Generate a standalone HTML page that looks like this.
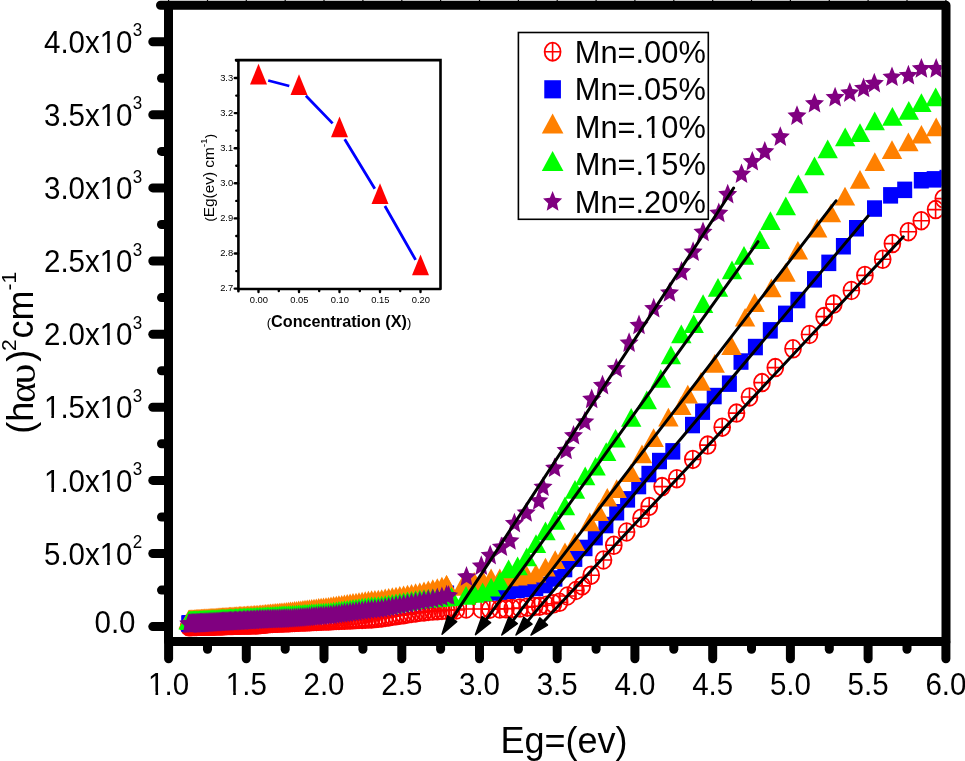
<!DOCTYPE html>
<html><head><meta charset="utf-8"><style>
html,body{margin:0;padding:0;background:#fff;}
svg{display:block;will-change:transform;}
text{font-family:"Liberation Sans", sans-serif;}
</style></head><body>
<svg width="965" height="761" viewBox="0 0 965 761">
<defs>
<clipPath id="pc"><rect x="173" y="9.5" width="768.6" height="627.5"/></clipPath>
<g id="mc"><ellipse cx="0" cy="0" rx="7.95" ry="8.85" fill="none" stroke="#f00" stroke-width="1.8"/><path d="M-7.95 0H7.95M0 -8.85V8.85" stroke="#f00" stroke-width="1.6"/></g>
<rect id="ms" x="-7.5" y="-8.2" width="15" height="16.5" fill="#00f"/>
<path id="mto" d="M0 -12.5L10.2 6.2L-10.2 6.2Z" fill="#ff8000"/>
<path id="mtg" d="M0 -12.5L10.2 6.2L-10.2 6.2Z" fill="#0f0"/>
<path id="mp" d="M0.00 -10.90L2.70 -4.05L9.54 -3.37L4.37 1.55L5.89 8.82L0.00 5.00L-5.89 8.82L-4.37 1.55L-9.54 -3.37L-2.70 -4.05Z" fill="#800080"/>
</defs>
<rect width="965" height="761" fill="#fff"/>

<g clip-path="url(#pc)"><use href="#mc" x="188.7" y="626.6"/>
<use href="#mc" x="189.5" y="626.6"/>
<use href="#mc" x="190.3" y="626.6"/>
<use href="#mc" x="191.1" y="626.5"/>
<use href="#mc" x="191.9" y="626.5"/>
<use href="#mc" x="192.7" y="626.5"/>
<use href="#mc" x="193.6" y="626.5"/>
<use href="#mc" x="194.4" y="626.4"/>
<use href="#mc" x="195.2" y="626.4"/>
<use href="#mc" x="196.1" y="626.4"/>
<use href="#mc" x="196.9" y="626.4"/>
<use href="#mc" x="197.8" y="626.3"/>
<use href="#mc" x="198.7" y="626.3"/>
<use href="#mc" x="199.6" y="626.3"/>
<use href="#mc" x="200.5" y="626.3"/>
<use href="#mc" x="201.4" y="626.2"/>
<use href="#mc" x="202.3" y="626.2"/>
<use href="#mc" x="203.2" y="626.2"/>
<use href="#mc" x="204.1" y="626.2"/>
<use href="#mc" x="205.0" y="626.1"/>
<use href="#mc" x="206.0" y="626.1"/>
<use href="#mc" x="206.9" y="626.1"/>
<use href="#mc" x="207.9" y="626.1"/>
<use href="#mc" x="208.9" y="626.0"/>
<use href="#mc" x="209.9" y="626.0"/>
<use href="#mc" x="210.9" y="626.0"/>
<use href="#mc" x="211.9" y="626.0"/>
<use href="#mc" x="212.9" y="625.9"/>
<use href="#mc" x="213.9" y="625.9"/>
<use href="#mc" x="214.9" y="625.9"/>
<use href="#mc" x="216.0" y="625.8"/>
<use href="#mc" x="217.0" y="625.8"/>
<use href="#mc" x="218.1" y="625.8"/>
<use href="#mc" x="219.2" y="625.7"/>
<use href="#mc" x="220.3" y="625.7"/>
<use href="#mc" x="221.4" y="625.7"/>
<use href="#mc" x="222.5" y="625.7"/>
<use href="#mc" x="223.6" y="625.6"/>
<use href="#mc" x="224.7" y="625.6"/>
<use href="#mc" x="225.9" y="625.6"/>
<use href="#mc" x="227.0" y="625.5"/>
<use href="#mc" x="228.2" y="625.5"/>
<use href="#mc" x="229.4" y="625.5"/>
<use href="#mc" x="230.6" y="625.4"/>
<use href="#mc" x="231.8" y="625.4"/>
<use href="#mc" x="233.0" y="625.4"/>
<use href="#mc" x="234.3" y="625.3"/>
<use href="#mc" x="235.5" y="625.3"/>
<use href="#mc" x="236.8" y="625.3"/>
<use href="#mc" x="238.1" y="625.2"/>
<use href="#mc" x="239.4" y="625.2"/>
<use href="#mc" x="240.7" y="625.1"/>
<use href="#mc" x="242.0" y="625.1"/>
<use href="#mc" x="243.4" y="625.1"/>
<use href="#mc" x="244.7" y="625.0"/>
<use href="#mc" x="246.1" y="625.0"/>
<use href="#mc" x="247.5" y="625.0"/>
<use href="#mc" x="248.9" y="624.9"/>
<use href="#mc" x="250.3" y="624.9"/>
<use href="#mc" x="251.8" y="624.8"/>
<use href="#mc" x="253.2" y="624.8"/>
<use href="#mc" x="254.7" y="624.7"/>
<use href="#mc" x="256.2" y="624.7"/>
<use href="#mc" x="257.7" y="624.7"/>
<use href="#mc" x="259.3" y="624.6"/>
<use href="#mc" x="260.8" y="624.5"/>
<use href="#mc" x="262.4" y="624.3"/>
<use href="#mc" x="264.0" y="624.2"/>
<use href="#mc" x="265.6" y="624.0"/>
<use href="#mc" x="267.2" y="623.8"/>
<use href="#mc" x="268.9" y="623.6"/>
<use href="#mc" x="270.6" y="623.5"/>
<use href="#mc" x="272.3" y="623.4"/>
<use href="#mc" x="274.0" y="623.3"/>
<use href="#mc" x="275.8" y="623.2"/>
<use href="#mc" x="277.5" y="623.2"/>
<use href="#mc" x="279.3" y="623.1"/>
<use href="#mc" x="281.1" y="623.0"/>
<use href="#mc" x="283.0" y="622.9"/>
<use href="#mc" x="284.8" y="622.8"/>
<use href="#mc" x="286.7" y="622.7"/>
<use href="#mc" x="288.7" y="622.7"/>
<use href="#mc" x="290.6" y="622.6"/>
<use href="#mc" x="292.6" y="622.5"/>
<use href="#mc" x="294.6" y="622.4"/>
<use href="#mc" x="296.6" y="622.3"/>
<use href="#mc" x="298.7" y="622.2"/>
<use href="#mc" x="300.8" y="622.1"/>
<use href="#mc" x="302.9" y="622.0"/>
<use href="#mc" x="305.0" y="621.9"/>
<use href="#mc" x="307.2" y="621.8"/>
<use href="#mc" x="309.4" y="621.7"/>
<use href="#mc" x="311.7" y="621.6"/>
<use href="#mc" x="314.0" y="621.5"/>
<use href="#mc" x="316.3" y="621.4"/>
<use href="#mc" x="318.7" y="621.3"/>
<use href="#mc" x="321.1" y="621.2"/>
<use href="#mc" x="323.5" y="621.1"/>
<use href="#mc" x="326.0" y="621.0"/>
<use href="#mc" x="328.5" y="620.9"/>
<use href="#mc" x="331.0" y="620.8"/>
<use href="#mc" x="333.6" y="620.6"/>
<use href="#mc" x="336.3" y="620.5"/>
<use href="#mc" x="338.9" y="620.4"/>
<use href="#mc" x="341.7" y="620.3"/>
<use href="#mc" x="344.4" y="620.2"/>
<use href="#mc" x="347.2" y="620.0"/>
<use href="#mc" x="350.1" y="619.9"/>
<use href="#mc" x="353.0" y="619.8"/>
<use href="#mc" x="356.0" y="619.6"/>
<use href="#mc" x="359.0" y="619.5"/>
<use href="#mc" x="362.1" y="619.4"/>
<use href="#mc" x="365.2" y="619.2"/>
<use href="#mc" x="368.4" y="619.1"/>
<use href="#mc" x="371.6" y="618.9"/>
<use href="#mc" x="374.9" y="618.6"/>
<use href="#mc" x="378.3" y="618.3"/>
<use href="#mc" x="381.7" y="617.9"/>
<use href="#mc" x="385.2" y="617.4"/>
<use href="#mc" x="388.7" y="616.9"/>
<use href="#mc" x="392.3" y="616.3"/>
<use href="#mc" x="396.0" y="615.8"/>
<use href="#mc" x="399.8" y="615.2"/>
<use href="#mc" x="403.6" y="614.7"/>
<use href="#mc" x="407.5" y="614.1"/>
<use href="#mc" x="411.5" y="613.5"/>
<use href="#mc" x="415.6" y="612.9"/>
<use href="#mc" x="419.8" y="612.2"/>
<use href="#mc" x="424.0" y="611.9"/>
<use href="#mc" x="428.3" y="611.5"/>
<use href="#mc" x="432.8" y="611.1"/>
<use href="#mc" x="437.3" y="610.7"/>
<use href="#mc" x="441.9" y="610.4"/>
<use href="#mc" x="446.6" y="610.3"/>
<use href="#mc" x="451.4" y="610.2"/>
<use href="#mc" x="456.3" y="610.0"/>
<use href="#mc" x="466.2" y="609.0"/>
<use href="#mc" x="481.1" y="609.0"/>
<use href="#mc" x="489.8" y="609.2"/>
<use href="#mc" x="499.8" y="609.0"/>
<use href="#mc" x="506.0" y="608.8"/>
<use href="#mc" x="512.2" y="608.5"/>
<use href="#mc" x="520.0" y="608.0"/>
<use href="#mc" x="527.1" y="607.2"/>
<use href="#mc" x="534.6" y="606.5"/>
<use href="#mc" x="539.6" y="606.2"/>
<use href="#mc" x="546.5" y="605.2"/>
<use href="#mc" x="553.5" y="603.8"/>
<use href="#mc" x="559.5" y="602.3"/>
<use href="#mc" x="567.4" y="596.0"/>
<use href="#mc" x="576.0" y="590.5"/>
<use href="#mc" x="582.2" y="585.9"/>
<use href="#mc" x="591.2" y="575.2"/>
<use href="#mc" x="603.5" y="560.0"/>
<use href="#mc" x="613.8" y="545.3"/>
<use href="#mc" x="626.6" y="532.0"/>
<use href="#mc" x="641.0" y="518.2"/>
<use href="#mc" x="649.2" y="506.4"/>
<use href="#mc" x="662.1" y="486.6"/>
<use href="#mc" x="676.8" y="478.7"/>
<use href="#mc" x="692.8" y="459.4"/>
<use href="#mc" x="707.7" y="445.1"/>
<use href="#mc" x="722.2" y="427.2"/>
<use href="#mc" x="736.5" y="413.1"/>
<use href="#mc" x="749.5" y="397.0"/>
<use href="#mc" x="762.0" y="382.6"/>
<use href="#mc" x="775.3" y="367.6"/>
<use href="#mc" x="793.0" y="348.8"/>
<use href="#mc" x="809.5" y="334.5"/>
<use href="#mc" x="824.1" y="316.6"/>
<use href="#mc" x="833.8" y="304.1"/>
<use href="#mc" x="851.4" y="290.5"/>
<use href="#mc" x="864.9" y="275.4"/>
<use href="#mc" x="882.7" y="259.3"/>
<use href="#mc" x="892.4" y="243.6"/>
<use href="#mc" x="908.4" y="231.7"/>
<use href="#mc" x="921.3" y="220.7"/>
<use href="#mc" x="935.6" y="209.6"/>
<use href="#mc" x="943.3" y="198.6"/>
<use href="#ms" x="188.7" y="623.5"/>
<use href="#ms" x="189.5" y="623.4"/>
<use href="#ms" x="190.3" y="623.4"/>
<use href="#ms" x="191.1" y="623.3"/>
<use href="#ms" x="191.9" y="623.2"/>
<use href="#ms" x="192.7" y="623.1"/>
<use href="#ms" x="193.6" y="623.1"/>
<use href="#ms" x="194.4" y="623.0"/>
<use href="#ms" x="195.2" y="622.9"/>
<use href="#ms" x="196.1" y="622.8"/>
<use href="#ms" x="196.9" y="622.8"/>
<use href="#ms" x="197.8" y="622.7"/>
<use href="#ms" x="198.7" y="622.6"/>
<use href="#ms" x="199.6" y="622.5"/>
<use href="#ms" x="200.5" y="622.5"/>
<use href="#ms" x="201.4" y="622.4"/>
<use href="#ms" x="202.3" y="622.3"/>
<use href="#ms" x="203.2" y="622.3"/>
<use href="#ms" x="204.1" y="622.2"/>
<use href="#ms" x="205.0" y="622.1"/>
<use href="#ms" x="206.0" y="622.1"/>
<use href="#ms" x="206.9" y="622.0"/>
<use href="#ms" x="207.9" y="621.9"/>
<use href="#ms" x="208.9" y="621.8"/>
<use href="#ms" x="209.9" y="621.8"/>
<use href="#ms" x="210.9" y="621.7"/>
<use href="#ms" x="211.9" y="621.6"/>
<use href="#ms" x="212.9" y="621.5"/>
<use href="#ms" x="213.9" y="621.5"/>
<use href="#ms" x="214.9" y="621.4"/>
<use href="#ms" x="216.0" y="621.3"/>
<use href="#ms" x="217.0" y="621.2"/>
<use href="#ms" x="218.1" y="621.1"/>
<use href="#ms" x="219.2" y="621.1"/>
<use href="#ms" x="220.3" y="621.0"/>
<use href="#ms" x="221.4" y="620.9"/>
<use href="#ms" x="222.5" y="620.8"/>
<use href="#ms" x="223.6" y="620.7"/>
<use href="#ms" x="224.7" y="620.6"/>
<use href="#ms" x="225.9" y="620.6"/>
<use href="#ms" x="227.0" y="620.5"/>
<use href="#ms" x="228.2" y="620.4"/>
<use href="#ms" x="229.4" y="620.3"/>
<use href="#ms" x="230.6" y="620.2"/>
<use href="#ms" x="231.8" y="620.1"/>
<use href="#ms" x="233.0" y="620.0"/>
<use href="#ms" x="234.3" y="619.9"/>
<use href="#ms" x="235.5" y="619.8"/>
<use href="#ms" x="236.8" y="619.7"/>
<use href="#ms" x="238.1" y="619.6"/>
<use href="#ms" x="239.4" y="619.5"/>
<use href="#ms" x="240.7" y="619.4"/>
<use href="#ms" x="242.0" y="619.3"/>
<use href="#ms" x="243.4" y="619.2"/>
<use href="#ms" x="244.7" y="619.1"/>
<use href="#ms" x="246.1" y="619.0"/>
<use href="#ms" x="247.5" y="618.9"/>
<use href="#ms" x="248.9" y="618.8"/>
<use href="#ms" x="250.3" y="618.7"/>
<use href="#ms" x="251.8" y="618.6"/>
<use href="#ms" x="253.2" y="618.5"/>
<use href="#ms" x="254.7" y="618.4"/>
<use href="#ms" x="256.2" y="618.3"/>
<use href="#ms" x="257.7" y="618.2"/>
<use href="#ms" x="259.3" y="618.1"/>
<use href="#ms" x="260.8" y="618.0"/>
<use href="#ms" x="262.4" y="617.9"/>
<use href="#ms" x="264.0" y="617.8"/>
<use href="#ms" x="265.6" y="617.7"/>
<use href="#ms" x="267.2" y="617.6"/>
<use href="#ms" x="268.9" y="617.5"/>
<use href="#ms" x="270.6" y="617.4"/>
<use href="#ms" x="272.3" y="617.3"/>
<use href="#ms" x="274.0" y="617.2"/>
<use href="#ms" x="275.8" y="617.1"/>
<use href="#ms" x="277.5" y="617.0"/>
<use href="#ms" x="279.3" y="616.9"/>
<use href="#ms" x="281.1" y="616.8"/>
<use href="#ms" x="283.0" y="616.7"/>
<use href="#ms" x="284.8" y="616.6"/>
<use href="#ms" x="286.7" y="616.5"/>
<use href="#ms" x="288.7" y="616.4"/>
<use href="#ms" x="290.6" y="616.3"/>
<use href="#ms" x="292.6" y="616.1"/>
<use href="#ms" x="294.6" y="615.9"/>
<use href="#ms" x="296.6" y="615.8"/>
<use href="#ms" x="298.7" y="615.6"/>
<use href="#ms" x="300.8" y="615.4"/>
<use href="#ms" x="302.9" y="615.2"/>
<use href="#ms" x="305.0" y="615.1"/>
<use href="#ms" x="307.2" y="614.9"/>
<use href="#ms" x="309.4" y="614.7"/>
<use href="#ms" x="311.7" y="614.5"/>
<use href="#ms" x="314.0" y="614.3"/>
<use href="#ms" x="316.3" y="614.1"/>
<use href="#ms" x="318.7" y="613.9"/>
<use href="#ms" x="321.1" y="613.7"/>
<use href="#ms" x="323.5" y="613.5"/>
<use href="#ms" x="326.0" y="613.3"/>
<use href="#ms" x="328.5" y="613.1"/>
<use href="#ms" x="331.0" y="612.9"/>
<use href="#ms" x="333.6" y="612.5"/>
<use href="#ms" x="336.3" y="612.1"/>
<use href="#ms" x="338.9" y="611.8"/>
<use href="#ms" x="341.7" y="611.4"/>
<use href="#ms" x="344.4" y="611.0"/>
<use href="#ms" x="347.2" y="610.6"/>
<use href="#ms" x="350.1" y="610.2"/>
<use href="#ms" x="353.0" y="609.8"/>
<use href="#ms" x="356.0" y="609.4"/>
<use href="#ms" x="359.0" y="609.0"/>
<use href="#ms" x="362.1" y="608.6"/>
<use href="#ms" x="365.2" y="608.2"/>
<use href="#ms" x="368.4" y="607.7"/>
<use href="#ms" x="371.6" y="607.4"/>
<use href="#ms" x="374.9" y="607.1"/>
<use href="#ms" x="378.3" y="606.8"/>
<use href="#ms" x="381.7" y="606.4"/>
<use href="#ms" x="385.2" y="605.8"/>
<use href="#ms" x="388.7" y="605.1"/>
<use href="#ms" x="392.3" y="604.5"/>
<use href="#ms" x="396.0" y="603.8"/>
<use href="#ms" x="399.8" y="603.2"/>
<use href="#ms" x="403.6" y="602.5"/>
<use href="#ms" x="407.5" y="601.8"/>
<use href="#ms" x="411.5" y="601.1"/>
<use href="#ms" x="415.6" y="600.4"/>
<use href="#ms" x="419.8" y="599.6"/>
<use href="#ms" x="424.0" y="598.9"/>
<use href="#ms" x="428.3" y="598.1"/>
<use href="#ms" x="432.8" y="597.3"/>
<use href="#ms" x="437.3" y="596.5"/>
<use href="#ms" x="441.9" y="595.3"/>
<use href="#ms" x="446.6" y="593.7"/>
<use href="#ms" x="474.0" y="593.5"/>
<use href="#ms" x="482.4" y="593.0"/>
<use href="#ms" x="490.9" y="592.4"/>
<use href="#ms" x="499.5" y="591.5"/>
<use href="#ms" x="508.4" y="590.7"/>
<use href="#ms" x="517.3" y="589.8"/>
<use href="#ms" x="526.5" y="588.9"/>
<use href="#ms" x="535.8" y="587.9"/>
<use href="#ms" x="545.3" y="585.0"/>
<use href="#ms" x="554.9" y="578.4"/>
<use href="#ms" x="564.8" y="569.0"/>
<use href="#ms" x="574.8" y="558.6"/>
<use href="#ms" x="585.0" y="547.9"/>
<use href="#ms" x="595.3" y="537.1"/>
<use href="#ms" x="605.9" y="525.0"/>
<use href="#ms" x="616.7" y="512.2"/>
<use href="#ms" x="627.6" y="499.3"/>
<use href="#ms" x="638.7" y="486.0"/>
<use href="#ms" x="648.9" y="474.0"/>
<use href="#ms" x="659.5" y="461.0"/>
<use href="#ms" x="672.8" y="451.3"/>
<use href="#ms" x="692.5" y="425.0"/>
<use href="#ms" x="702.6" y="411.6"/>
<use href="#ms" x="714.2" y="396.0"/>
<use href="#ms" x="729.4" y="383.6"/>
<use href="#ms" x="741.0" y="361.5"/>
<use href="#ms" x="755.4" y="347.0"/>
<use href="#ms" x="770.3" y="330.3"/>
<use href="#ms" x="785.5" y="313.8"/>
<use href="#ms" x="797.9" y="300.0"/>
<use href="#ms" x="814.5" y="279.3"/>
<use href="#ms" x="828.8" y="262.8"/>
<use href="#ms" x="843.4" y="246.2"/>
<use href="#ms" x="856.5" y="228.2"/>
<use href="#ms" x="874.5" y="208.5"/>
<use href="#ms" x="890.6" y="195.3"/>
<use href="#ms" x="904.7" y="189.8"/>
<use href="#ms" x="921.3" y="180.2"/>
<use href="#ms" x="934.2" y="179.3"/>
<use href="#ms" x="947.0" y="178.0"/>
<use href="#mto" x="188.7" y="622.2"/>
<use href="#mto" x="189.5" y="622.1"/>
<use href="#mto" x="190.3" y="622.1"/>
<use href="#mto" x="191.1" y="622.0"/>
<use href="#mto" x="191.9" y="622.0"/>
<use href="#mto" x="192.7" y="621.9"/>
<use href="#mto" x="193.6" y="621.9"/>
<use href="#mto" x="194.4" y="621.8"/>
<use href="#mto" x="195.2" y="621.7"/>
<use href="#mto" x="196.1" y="621.7"/>
<use href="#mto" x="196.9" y="621.6"/>
<use href="#mto" x="197.8" y="621.6"/>
<use href="#mto" x="198.7" y="621.5"/>
<use href="#mto" x="199.6" y="621.4"/>
<use href="#mto" x="200.5" y="621.4"/>
<use href="#mto" x="201.4" y="621.3"/>
<use href="#mto" x="202.3" y="621.2"/>
<use href="#mto" x="203.2" y="621.2"/>
<use href="#mto" x="204.1" y="621.1"/>
<use href="#mto" x="205.0" y="621.1"/>
<use href="#mto" x="206.0" y="621.0"/>
<use href="#mto" x="206.9" y="620.9"/>
<use href="#mto" x="207.9" y="620.9"/>
<use href="#mto" x="208.9" y="620.8"/>
<use href="#mto" x="209.9" y="620.7"/>
<use href="#mto" x="210.9" y="620.6"/>
<use href="#mto" x="211.9" y="620.6"/>
<use href="#mto" x="212.9" y="620.5"/>
<use href="#mto" x="213.9" y="620.4"/>
<use href="#mto" x="214.9" y="620.4"/>
<use href="#mto" x="216.0" y="620.3"/>
<use href="#mto" x="217.0" y="620.2"/>
<use href="#mto" x="218.1" y="620.1"/>
<use href="#mto" x="219.2" y="620.1"/>
<use href="#mto" x="220.3" y="620.0"/>
<use href="#mto" x="221.4" y="619.9"/>
<use href="#mto" x="222.5" y="619.8"/>
<use href="#mto" x="223.6" y="619.8"/>
<use href="#mto" x="224.7" y="619.7"/>
<use href="#mto" x="225.9" y="619.6"/>
<use href="#mto" x="227.0" y="619.5"/>
<use href="#mto" x="228.2" y="619.4"/>
<use href="#mto" x="229.4" y="619.3"/>
<use href="#mto" x="230.6" y="619.3"/>
<use href="#mto" x="231.8" y="619.2"/>
<use href="#mto" x="233.0" y="619.1"/>
<use href="#mto" x="234.3" y="619.0"/>
<use href="#mto" x="235.5" y="618.9"/>
<use href="#mto" x="236.8" y="618.8"/>
<use href="#mto" x="238.1" y="618.7"/>
<use href="#mto" x="239.4" y="618.6"/>
<use href="#mto" x="240.7" y="618.6"/>
<use href="#mto" x="242.0" y="618.5"/>
<use href="#mto" x="243.4" y="618.4"/>
<use href="#mto" x="244.7" y="618.3"/>
<use href="#mto" x="246.1" y="618.2"/>
<use href="#mto" x="247.5" y="618.1"/>
<use href="#mto" x="248.9" y="618.0"/>
<use href="#mto" x="250.3" y="617.9"/>
<use href="#mto" x="251.8" y="617.8"/>
<use href="#mto" x="253.2" y="617.7"/>
<use href="#mto" x="254.7" y="617.6"/>
<use href="#mto" x="256.2" y="617.5"/>
<use href="#mto" x="257.7" y="617.4"/>
<use href="#mto" x="259.3" y="617.3"/>
<use href="#mto" x="260.8" y="617.1"/>
<use href="#mto" x="262.4" y="617.0"/>
<use href="#mto" x="264.0" y="616.8"/>
<use href="#mto" x="265.6" y="616.6"/>
<use href="#mto" x="267.2" y="616.5"/>
<use href="#mto" x="268.9" y="616.3"/>
<use href="#mto" x="270.6" y="616.1"/>
<use href="#mto" x="272.3" y="616.0"/>
<use href="#mto" x="274.0" y="615.8"/>
<use href="#mto" x="275.8" y="615.6"/>
<use href="#mto" x="277.5" y="615.4"/>
<use href="#mto" x="279.3" y="615.3"/>
<use href="#mto" x="281.1" y="615.1"/>
<use href="#mto" x="283.0" y="614.9"/>
<use href="#mto" x="284.8" y="614.7"/>
<use href="#mto" x="286.7" y="614.5"/>
<use href="#mto" x="288.7" y="614.3"/>
<use href="#mto" x="290.6" y="614.1"/>
<use href="#mto" x="292.6" y="613.9"/>
<use href="#mto" x="294.6" y="613.6"/>
<use href="#mto" x="296.6" y="613.4"/>
<use href="#mto" x="298.7" y="613.1"/>
<use href="#mto" x="300.8" y="612.9"/>
<use href="#mto" x="302.9" y="612.6"/>
<use href="#mto" x="305.0" y="612.3"/>
<use href="#mto" x="307.2" y="612.0"/>
<use href="#mto" x="309.4" y="611.8"/>
<use href="#mto" x="311.7" y="611.5"/>
<use href="#mto" x="314.0" y="611.2"/>
<use href="#mto" x="316.3" y="610.9"/>
<use href="#mto" x="318.7" y="610.6"/>
<use href="#mto" x="321.1" y="610.3"/>
<use href="#mto" x="323.5" y="610.0"/>
<use href="#mto" x="326.0" y="609.7"/>
<use href="#mto" x="328.5" y="609.4"/>
<use href="#mto" x="331.0" y="609.0"/>
<use href="#mto" x="333.6" y="608.6"/>
<use href="#mto" x="336.3" y="608.2"/>
<use href="#mto" x="338.9" y="607.8"/>
<use href="#mto" x="341.7" y="607.4"/>
<use href="#mto" x="344.4" y="607.0"/>
<use href="#mto" x="347.2" y="606.5"/>
<use href="#mto" x="350.1" y="606.1"/>
<use href="#mto" x="353.0" y="605.6"/>
<use href="#mto" x="356.0" y="605.2"/>
<use href="#mto" x="359.0" y="604.7"/>
<use href="#mto" x="362.1" y="604.2"/>
<use href="#mto" x="365.2" y="603.7"/>
<use href="#mto" x="368.4" y="603.3"/>
<use href="#mto" x="371.6" y="602.8"/>
<use href="#mto" x="374.9" y="602.5"/>
<use href="#mto" x="378.3" y="602.2"/>
<use href="#mto" x="381.7" y="601.7"/>
<use href="#mto" x="385.2" y="601.1"/>
<use href="#mto" x="388.7" y="600.5"/>
<use href="#mto" x="392.3" y="599.8"/>
<use href="#mto" x="396.0" y="599.2"/>
<use href="#mto" x="399.8" y="598.5"/>
<use href="#mto" x="403.6" y="597.9"/>
<use href="#mto" x="407.5" y="597.2"/>
<use href="#mto" x="411.5" y="596.5"/>
<use href="#mto" x="415.6" y="595.8"/>
<use href="#mto" x="419.8" y="595.0"/>
<use href="#mto" x="424.0" y="594.0"/>
<use href="#mto" x="428.3" y="592.9"/>
<use href="#mto" x="432.8" y="591.8"/>
<use href="#mto" x="437.3" y="590.7"/>
<use href="#mto" x="441.9" y="589.3"/>
<use href="#mto" x="446.6" y="587.5"/>
<use href="#mto" x="466.0" y="585.0"/>
<use href="#mto" x="474.2" y="584.5"/>
<use href="#mto" x="482.6" y="582.7"/>
<use href="#mto" x="491.1" y="581.0"/>
<use href="#mto" x="499.8" y="581.0"/>
<use href="#mto" x="508.6" y="580.1"/>
<use href="#mto" x="517.6" y="579.2"/>
<use href="#mto" x="526.7" y="578.0"/>
<use href="#mto" x="536.0" y="576.4"/>
<use href="#mto" x="545.5" y="570.3"/>
<use href="#mto" x="555.2" y="562.8"/>
<use href="#mto" x="565.0" y="554.9"/>
<use href="#mto" x="575.0" y="544.7"/>
<use href="#mto" x="446.5" y="587.5"/>
<use href="#mto" x="462.0" y="589.5"/>
<use href="#mto" x="589.8" y="525.0"/>
<use href="#mto" x="598.7" y="514.9"/>
<use href="#mto" x="607.3" y="500.4"/>
<use href="#mto" x="616.7" y="491.7"/>
<use href="#mto" x="631.2" y="475.8"/>
<use href="#mto" x="642.0" y="457.1"/>
<use href="#mto" x="653.6" y="440.8"/>
<use href="#mto" x="668.4" y="420.3"/>
<use href="#mto" x="681.3" y="408.7"/>
<use href="#mto" x="687.8" y="397.3"/>
<use href="#mto" x="701.0" y="384.5"/>
<use href="#mto" x="714.7" y="366.6"/>
<use href="#mto" x="731.5" y="348.8"/>
<use href="#mto" x="745.1" y="320.4"/>
<use href="#mto" x="754.6" y="305.7"/>
<use href="#mto" x="771.4" y="291.0"/>
<use href="#mto" x="785.5" y="275.5"/>
<use href="#mto" x="797.9" y="253.4"/>
<use href="#mto" x="817.2" y="231.3"/>
<use href="#mto" x="831.0" y="216.1"/>
<use href="#mto" x="845.0" y="199.3"/>
<use href="#mto" x="860.0" y="182.6"/>
<use href="#mto" x="874.8" y="164.7"/>
<use href="#mto" x="892.0" y="152.7"/>
<use href="#mto" x="908.4" y="145.1"/>
<use href="#mto" x="921.4" y="137.4"/>
<use href="#mto" x="936.2" y="130.0"/>
<use href="#mto" x="950.0" y="124.0"/>
<use href="#mtg" x="188.7" y="623.4"/>
<use href="#mtg" x="189.5" y="623.4"/>
<use href="#mtg" x="190.3" y="623.3"/>
<use href="#mtg" x="191.1" y="623.3"/>
<use href="#mtg" x="191.9" y="623.2"/>
<use href="#mtg" x="192.7" y="623.2"/>
<use href="#mtg" x="193.6" y="623.1"/>
<use href="#mtg" x="194.4" y="623.1"/>
<use href="#mtg" x="195.2" y="623.0"/>
<use href="#mtg" x="196.1" y="623.0"/>
<use href="#mtg" x="196.9" y="622.9"/>
<use href="#mtg" x="197.8" y="622.9"/>
<use href="#mtg" x="198.7" y="622.9"/>
<use href="#mtg" x="199.6" y="622.8"/>
<use href="#mtg" x="200.5" y="622.8"/>
<use href="#mtg" x="201.4" y="622.7"/>
<use href="#mtg" x="202.3" y="622.7"/>
<use href="#mtg" x="203.2" y="622.6"/>
<use href="#mtg" x="204.1" y="622.6"/>
<use href="#mtg" x="205.0" y="622.5"/>
<use href="#mtg" x="206.0" y="622.5"/>
<use href="#mtg" x="206.9" y="622.4"/>
<use href="#mtg" x="207.9" y="622.3"/>
<use href="#mtg" x="208.9" y="622.3"/>
<use href="#mtg" x="209.9" y="622.2"/>
<use href="#mtg" x="210.9" y="622.2"/>
<use href="#mtg" x="211.9" y="622.1"/>
<use href="#mtg" x="212.9" y="622.1"/>
<use href="#mtg" x="213.9" y="622.0"/>
<use href="#mtg" x="214.9" y="622.0"/>
<use href="#mtg" x="216.0" y="621.9"/>
<use href="#mtg" x="217.0" y="621.9"/>
<use href="#mtg" x="218.1" y="621.8"/>
<use href="#mtg" x="219.2" y="621.7"/>
<use href="#mtg" x="220.3" y="621.7"/>
<use href="#mtg" x="221.4" y="621.6"/>
<use href="#mtg" x="222.5" y="621.6"/>
<use href="#mtg" x="223.6" y="621.5"/>
<use href="#mtg" x="224.7" y="621.4"/>
<use href="#mtg" x="225.9" y="621.4"/>
<use href="#mtg" x="227.0" y="621.3"/>
<use href="#mtg" x="228.2" y="621.2"/>
<use href="#mtg" x="229.4" y="621.2"/>
<use href="#mtg" x="230.6" y="621.1"/>
<use href="#mtg" x="231.8" y="621.0"/>
<use href="#mtg" x="233.0" y="621.0"/>
<use href="#mtg" x="234.3" y="620.9"/>
<use href="#mtg" x="235.5" y="620.8"/>
<use href="#mtg" x="236.8" y="620.8"/>
<use href="#mtg" x="238.1" y="620.7"/>
<use href="#mtg" x="239.4" y="620.6"/>
<use href="#mtg" x="240.7" y="620.6"/>
<use href="#mtg" x="242.0" y="620.5"/>
<use href="#mtg" x="243.4" y="620.4"/>
<use href="#mtg" x="244.7" y="620.3"/>
<use href="#mtg" x="246.1" y="620.3"/>
<use href="#mtg" x="247.5" y="620.2"/>
<use href="#mtg" x="248.9" y="620.1"/>
<use href="#mtg" x="250.3" y="620.0"/>
<use href="#mtg" x="251.8" y="619.9"/>
<use href="#mtg" x="253.2" y="619.9"/>
<use href="#mtg" x="254.7" y="619.8"/>
<use href="#mtg" x="256.2" y="619.7"/>
<use href="#mtg" x="257.7" y="619.6"/>
<use href="#mtg" x="259.3" y="619.5"/>
<use href="#mtg" x="260.8" y="619.5"/>
<use href="#mtg" x="262.4" y="619.4"/>
<use href="#mtg" x="264.0" y="619.3"/>
<use href="#mtg" x="265.6" y="619.2"/>
<use href="#mtg" x="267.2" y="619.1"/>
<use href="#mtg" x="268.9" y="619.0"/>
<use href="#mtg" x="270.6" y="618.9"/>
<use href="#mtg" x="272.3" y="618.8"/>
<use href="#mtg" x="274.0" y="618.7"/>
<use href="#mtg" x="275.8" y="618.6"/>
<use href="#mtg" x="277.5" y="618.4"/>
<use href="#mtg" x="279.3" y="618.3"/>
<use href="#mtg" x="281.1" y="618.2"/>
<use href="#mtg" x="283.0" y="618.1"/>
<use href="#mtg" x="284.8" y="618.0"/>
<use href="#mtg" x="286.7" y="617.9"/>
<use href="#mtg" x="288.7" y="617.8"/>
<use href="#mtg" x="290.6" y="617.7"/>
<use href="#mtg" x="292.6" y="617.5"/>
<use href="#mtg" x="294.6" y="617.4"/>
<use href="#mtg" x="296.6" y="617.2"/>
<use href="#mtg" x="298.7" y="617.1"/>
<use href="#mtg" x="300.8" y="616.9"/>
<use href="#mtg" x="302.9" y="616.8"/>
<use href="#mtg" x="305.0" y="616.6"/>
<use href="#mtg" x="307.2" y="616.5"/>
<use href="#mtg" x="309.4" y="616.3"/>
<use href="#mtg" x="311.7" y="616.1"/>
<use href="#mtg" x="314.0" y="616.0"/>
<use href="#mtg" x="316.3" y="615.8"/>
<use href="#mtg" x="318.7" y="615.6"/>
<use href="#mtg" x="321.1" y="615.4"/>
<use href="#mtg" x="323.5" y="615.3"/>
<use href="#mtg" x="326.0" y="615.1"/>
<use href="#mtg" x="328.5" y="614.9"/>
<use href="#mtg" x="331.0" y="614.7"/>
<use href="#mtg" x="333.6" y="614.3"/>
<use href="#mtg" x="336.3" y="613.9"/>
<use href="#mtg" x="338.9" y="613.5"/>
<use href="#mtg" x="341.7" y="613.2"/>
<use href="#mtg" x="344.4" y="612.8"/>
<use href="#mtg" x="347.2" y="612.4"/>
<use href="#mtg" x="350.1" y="612.0"/>
<use href="#mtg" x="353.0" y="611.6"/>
<use href="#mtg" x="356.0" y="611.2"/>
<use href="#mtg" x="359.0" y="610.7"/>
<use href="#mtg" x="362.1" y="610.3"/>
<use href="#mtg" x="365.2" y="609.9"/>
<use href="#mtg" x="368.4" y="609.4"/>
<use href="#mtg" x="371.6" y="609.1"/>
<use href="#mtg" x="374.9" y="608.9"/>
<use href="#mtg" x="378.3" y="608.7"/>
<use href="#mtg" x="381.7" y="608.3"/>
<use href="#mtg" x="385.2" y="607.7"/>
<use href="#mtg" x="388.7" y="607.2"/>
<use href="#mtg" x="392.3" y="606.6"/>
<use href="#mtg" x="396.0" y="606.0"/>
<use href="#mtg" x="399.8" y="605.3"/>
<use href="#mtg" x="403.6" y="604.7"/>
<use href="#mtg" x="407.5" y="604.1"/>
<use href="#mtg" x="411.5" y="603.4"/>
<use href="#mtg" x="415.6" y="602.7"/>
<use href="#mtg" x="419.8" y="602.0"/>
<use href="#mtg" x="424.0" y="601.7"/>
<use href="#mtg" x="428.3" y="601.4"/>
<use href="#mtg" x="432.8" y="601.0"/>
<use href="#mtg" x="437.3" y="600.7"/>
<use href="#mtg" x="441.9" y="600.4"/>
<use href="#mtg" x="446.6" y="600.1"/>
<use href="#mtg" x="451.4" y="599.7"/>
<use href="#mtg" x="466.0" y="598.5"/>
<use href="#mtg" x="474.2" y="596.5"/>
<use href="#mtg" x="482.6" y="595.1"/>
<use href="#mtg" x="491.1" y="590.3"/>
<use href="#mtg" x="499.8" y="584.1"/>
<use href="#mtg" x="508.6" y="572.0"/>
<use href="#mtg" x="517.6" y="569.1"/>
<use href="#mtg" x="526.7" y="560.1"/>
<use href="#mtg" x="536.0" y="546.7"/>
<use href="#mtg" x="545.5" y="534.0"/>
<use href="#mtg" x="555.2" y="523.5"/>
<use href="#mtg" x="565.0" y="509.0"/>
<use href="#mtg" x="575.0" y="492.5"/>
<use href="#mtg" x="585.2" y="479.0"/>
<use href="#mtg" x="595.6" y="469.2"/>
<use href="#mtg" x="606.2" y="454.7"/>
<use href="#mtg" x="615.6" y="441.4"/>
<use href="#mtg" x="631.2" y="420.5"/>
<use href="#mtg" x="646.8" y="403.0"/>
<use href="#mtg" x="660.8" y="381.6"/>
<use href="#mtg" x="670.9" y="358.0"/>
<use href="#mtg" x="681.3" y="337.1"/>
<use href="#mtg" x="693.7" y="326.7"/>
<use href="#mtg" x="703.1" y="306.8"/>
<use href="#mtg" x="718.0" y="290.5"/>
<use href="#mtg" x="732.0" y="273.0"/>
<use href="#mtg" x="744.0" y="258.5"/>
<use href="#mtg" x="759.9" y="242.8"/>
<use href="#mtg" x="770.4" y="223.7"/>
<use href="#mtg" x="785.8" y="209.0"/>
<use href="#mtg" x="798.3" y="187.0"/>
<use href="#mtg" x="814.5" y="169.0"/>
<use href="#mtg" x="827.7" y="152.0"/>
<use href="#mtg" x="845.2" y="140.0"/>
<use href="#mtg" x="860.0" y="135.7"/>
<use href="#mtg" x="874.7" y="124.0"/>
<use href="#mtg" x="892.4" y="119.5"/>
<use href="#mtg" x="908.8" y="113.6"/>
<use href="#mtg" x="921.4" y="105.8"/>
<use href="#mtg" x="935.7" y="100.1"/>
<use href="#mtg" x="950.0" y="95.0"/>
<use href="#mp" x="188.7" y="624.2"/>
<use href="#mp" x="189.5" y="624.2"/>
<use href="#mp" x="190.3" y="624.1"/>
<use href="#mp" x="191.1" y="624.1"/>
<use href="#mp" x="191.9" y="624.0"/>
<use href="#mp" x="192.7" y="624.0"/>
<use href="#mp" x="193.6" y="623.9"/>
<use href="#mp" x="194.4" y="623.9"/>
<use href="#mp" x="195.2" y="623.8"/>
<use href="#mp" x="196.1" y="623.8"/>
<use href="#mp" x="196.9" y="623.7"/>
<use href="#mp" x="197.8" y="623.7"/>
<use href="#mp" x="198.7" y="623.6"/>
<use href="#mp" x="199.6" y="623.6"/>
<use href="#mp" x="200.5" y="623.5"/>
<use href="#mp" x="201.4" y="623.5"/>
<use href="#mp" x="202.3" y="623.4"/>
<use href="#mp" x="203.2" y="623.3"/>
<use href="#mp" x="204.1" y="623.3"/>
<use href="#mp" x="205.0" y="623.2"/>
<use href="#mp" x="206.0" y="623.2"/>
<use href="#mp" x="206.9" y="623.1"/>
<use href="#mp" x="207.9" y="623.1"/>
<use href="#mp" x="208.9" y="623.0"/>
<use href="#mp" x="209.9" y="623.0"/>
<use href="#mp" x="210.9" y="622.9"/>
<use href="#mp" x="211.9" y="622.8"/>
<use href="#mp" x="212.9" y="622.8"/>
<use href="#mp" x="213.9" y="622.7"/>
<use href="#mp" x="214.9" y="622.7"/>
<use href="#mp" x="216.0" y="622.6"/>
<use href="#mp" x="217.0" y="622.5"/>
<use href="#mp" x="218.1" y="622.5"/>
<use href="#mp" x="219.2" y="622.4"/>
<use href="#mp" x="220.3" y="622.3"/>
<use href="#mp" x="221.4" y="622.3"/>
<use href="#mp" x="222.5" y="622.2"/>
<use href="#mp" x="223.6" y="622.1"/>
<use href="#mp" x="224.7" y="622.1"/>
<use href="#mp" x="225.9" y="622.0"/>
<use href="#mp" x="227.0" y="621.9"/>
<use href="#mp" x="228.2" y="621.9"/>
<use href="#mp" x="229.4" y="621.8"/>
<use href="#mp" x="230.6" y="621.7"/>
<use href="#mp" x="231.8" y="621.7"/>
<use href="#mp" x="233.0" y="621.6"/>
<use href="#mp" x="234.3" y="621.5"/>
<use href="#mp" x="235.5" y="621.4"/>
<use href="#mp" x="236.8" y="621.4"/>
<use href="#mp" x="238.1" y="621.3"/>
<use href="#mp" x="239.4" y="621.2"/>
<use href="#mp" x="240.7" y="621.1"/>
<use href="#mp" x="242.0" y="621.1"/>
<use href="#mp" x="243.4" y="621.0"/>
<use href="#mp" x="244.7" y="620.9"/>
<use href="#mp" x="246.1" y="620.8"/>
<use href="#mp" x="247.5" y="620.7"/>
<use href="#mp" x="248.9" y="620.7"/>
<use href="#mp" x="250.3" y="620.6"/>
<use href="#mp" x="251.8" y="620.5"/>
<use href="#mp" x="253.2" y="620.4"/>
<use href="#mp" x="254.7" y="620.3"/>
<use href="#mp" x="256.2" y="620.2"/>
<use href="#mp" x="257.7" y="620.1"/>
<use href="#mp" x="259.3" y="620.0"/>
<use href="#mp" x="260.8" y="620.0"/>
<use href="#mp" x="262.4" y="619.9"/>
<use href="#mp" x="264.0" y="619.8"/>
<use href="#mp" x="265.6" y="619.8"/>
<use href="#mp" x="267.2" y="619.7"/>
<use href="#mp" x="268.9" y="619.6"/>
<use href="#mp" x="270.6" y="619.6"/>
<use href="#mp" x="272.3" y="619.5"/>
<use href="#mp" x="274.0" y="619.4"/>
<use href="#mp" x="275.8" y="619.4"/>
<use href="#mp" x="277.5" y="619.3"/>
<use href="#mp" x="279.3" y="619.2"/>
<use href="#mp" x="281.1" y="619.2"/>
<use href="#mp" x="283.0" y="619.1"/>
<use href="#mp" x="284.8" y="619.0"/>
<use href="#mp" x="286.7" y="618.9"/>
<use href="#mp" x="288.7" y="618.9"/>
<use href="#mp" x="290.6" y="618.8"/>
<use href="#mp" x="292.6" y="618.6"/>
<use href="#mp" x="294.6" y="618.4"/>
<use href="#mp" x="296.6" y="618.3"/>
<use href="#mp" x="298.7" y="618.1"/>
<use href="#mp" x="300.8" y="617.9"/>
<use href="#mp" x="302.9" y="617.7"/>
<use href="#mp" x="305.0" y="617.6"/>
<use href="#mp" x="307.2" y="617.4"/>
<use href="#mp" x="309.4" y="617.2"/>
<use href="#mp" x="311.7" y="617.0"/>
<use href="#mp" x="314.0" y="616.8"/>
<use href="#mp" x="316.3" y="616.6"/>
<use href="#mp" x="318.7" y="616.4"/>
<use href="#mp" x="321.1" y="616.2"/>
<use href="#mp" x="323.5" y="616.0"/>
<use href="#mp" x="326.0" y="615.8"/>
<use href="#mp" x="328.5" y="615.6"/>
<use href="#mp" x="331.0" y="615.4"/>
<use href="#mp" x="333.6" y="615.0"/>
<use href="#mp" x="336.3" y="614.6"/>
<use href="#mp" x="338.9" y="614.3"/>
<use href="#mp" x="341.7" y="613.9"/>
<use href="#mp" x="344.4" y="613.5"/>
<use href="#mp" x="347.2" y="613.1"/>
<use href="#mp" x="350.1" y="612.7"/>
<use href="#mp" x="353.0" y="612.3"/>
<use href="#mp" x="356.0" y="611.9"/>
<use href="#mp" x="359.0" y="611.5"/>
<use href="#mp" x="362.1" y="611.1"/>
<use href="#mp" x="365.2" y="610.7"/>
<use href="#mp" x="368.4" y="610.2"/>
<use href="#mp" x="371.6" y="609.9"/>
<use href="#mp" x="374.9" y="609.6"/>
<use href="#mp" x="378.3" y="609.3"/>
<use href="#mp" x="381.7" y="608.9"/>
<use href="#mp" x="385.2" y="608.2"/>
<use href="#mp" x="388.7" y="607.6"/>
<use href="#mp" x="392.3" y="606.9"/>
<use href="#mp" x="396.0" y="606.2"/>
<use href="#mp" x="399.8" y="605.5"/>
<use href="#mp" x="403.6" y="604.8"/>
<use href="#mp" x="407.5" y="604.1"/>
<use href="#mp" x="411.5" y="603.3"/>
<use href="#mp" x="415.6" y="602.6"/>
<use href="#mp" x="419.8" y="601.8"/>
<use href="#mp" x="424.0" y="601.0"/>
<use href="#mp" x="428.3" y="600.2"/>
<use href="#mp" x="432.8" y="599.4"/>
<use href="#mp" x="437.3" y="598.5"/>
<use href="#mp" x="441.9" y="597.3"/>
<use href="#mp" x="446.6" y="595.7"/>
<use href="#mp" x="448.6" y="596.0"/>
<use href="#mp" x="466.5" y="577.0"/>
<use href="#mp" x="481.3" y="566.2"/>
<use href="#mp" x="490.2" y="555.6"/>
<use href="#mp" x="501.4" y="547.3"/>
<use href="#mp" x="510.0" y="541.0"/>
<use href="#mp" x="514.4" y="523.6"/>
<use href="#mp" x="526.2" y="513.0"/>
<use href="#mp" x="538.8" y="501.0"/>
<use href="#mp" x="543.0" y="487.3"/>
<use href="#mp" x="554.6" y="468.3"/>
<use href="#mp" x="566.1" y="450.5"/>
<use href="#mp" x="573.5" y="435.8"/>
<use href="#mp" x="584.8" y="422.0"/>
<use href="#mp" x="591.7" y="399.4"/>
<use href="#mp" x="602.5" y="385.6"/>
<use href="#mp" x="616.3" y="368.8"/>
<use href="#mp" x="629.1" y="343.2"/>
<use href="#mp" x="639.0" y="325.5"/>
<use href="#mp" x="653.7" y="308.7"/>
<use href="#mp" x="669.5" y="293.0"/>
<use href="#mp" x="681.6" y="271.9"/>
<use href="#mp" x="693.1" y="252.2"/>
<use href="#mp" x="703.0" y="232.4"/>
<use href="#mp" x="718.8" y="213.4"/>
<use href="#mp" x="727.7" y="194.6"/>
<use href="#mp" x="741.5" y="174.3"/>
<use href="#mp" x="752.3" y="161.8"/>
<use href="#mp" x="764.8" y="151.9"/>
<use href="#mp" x="780.3" y="137.1"/>
<use href="#mp" x="797.0" y="116.1"/>
<use href="#mp" x="814.5" y="103.8"/>
<use href="#mp" x="835.1" y="97.7"/>
<use href="#mp" x="849.8" y="93.1"/>
<use href="#mp" x="863.6" y="88.5"/>
<use href="#mp" x="874.3" y="83.6"/>
<use href="#mp" x="892.0" y="77.3"/>
<use href="#mp" x="908.4" y="75.7"/>
<use href="#mp" x="921.4" y="68.9"/>
<use href="#mp" x="936.2" y="68.9"/>
<use href="#mp" x="950.0" y="64.0"/>
<path d="M733.6 188.0L451.1 620.4" stroke="#000" stroke-width="3.0" stroke-linecap="round" fill="none"/><path d="M442.1 634.2L447.8 615.8L456.7 621.6Z" fill="#000" stroke="#000" stroke-width="1.5" stroke-linejoin="round"/>
<path d="M758.0 241.7L485.1 621.2" stroke="#000" stroke-width="3.0" stroke-linecap="round" fill="none"/><path d="M475.5 634.6L482.0 616.5L490.6 622.7Z" fill="#000" stroke="#000" stroke-width="1.5" stroke-linejoin="round"/>
<path d="M836.0 200.8L511.9 621.9" stroke="#000" stroke-width="3.0" stroke-linecap="round" fill="none"/><path d="M501.8 635.0L508.9 617.1L517.3 623.6Z" fill="#000" stroke="#000" stroke-width="1.5" stroke-linejoin="round"/>
<path d="M868.1 216.0L526.6 622.4" stroke="#000" stroke-width="3.0" stroke-linecap="round" fill="none"/><path d="M516.0 635.0L523.8 617.4L532.0 624.2Z" fill="#000" stroke="#000" stroke-width="1.5" stroke-linejoin="round"/>
<path d="M903.3 236.8L542.3 622.9" stroke="#000" stroke-width="3.0" stroke-linecap="round" fill="none"/><path d="M531.0 635.0L539.8 617.9L547.5 625.1Z" fill="#000" stroke="#000" stroke-width="1.5" stroke-linejoin="round"/></g>
<g stroke="#000" stroke-width="9" stroke-linecap="round" stroke-linejoin="round" fill="none">
<path d="M160.5 5.2H946V641.5M168.5 5.2V641.5H946"/>
</g>
<g stroke="#000" stroke-width="9" stroke-linecap="round">
<line x1="152.8" y1="626.6" x2="166" y2="626.6"/>
<line x1="161.5" y1="590.1" x2="166" y2="590.1"/>
<line x1="152.8" y1="553.5" x2="166" y2="553.5"/>
<line x1="161.5" y1="517.0" x2="166" y2="517.0"/>
<line x1="152.8" y1="480.4" x2="166" y2="480.4"/>
<line x1="161.5" y1="443.8" x2="166" y2="443.8"/>
<line x1="152.8" y1="407.3" x2="166" y2="407.3"/>
<line x1="161.5" y1="370.7" x2="166" y2="370.7"/>
<line x1="152.8" y1="334.2" x2="166" y2="334.2"/>
<line x1="161.5" y1="297.6" x2="166" y2="297.6"/>
<line x1="152.8" y1="261.0" x2="166" y2="261.0"/>
<line x1="161.5" y1="224.5" x2="166" y2="224.5"/>
<line x1="152.8" y1="187.9" x2="166" y2="187.9"/>
<line x1="161.5" y1="151.4" x2="166" y2="151.4"/>
<line x1="152.8" y1="114.8" x2="166" y2="114.8"/>
<line x1="161.5" y1="78.2" x2="166" y2="78.2"/>
<line x1="152.8" y1="41.7" x2="166" y2="41.7"/>
</g><g stroke="#000" stroke-width="1.2">
<line x1="168.6" y1="-3" x2="168.6" y2="3"/>
<line x1="207.5" y1="-3" x2="207.5" y2="3"/>
<line x1="246.3" y1="-3" x2="246.3" y2="3"/>
<line x1="285.2" y1="-3" x2="285.2" y2="3"/>
<line x1="324.0" y1="-3" x2="324.0" y2="3"/>
<line x1="362.9" y1="-3" x2="362.9" y2="3"/>
<line x1="401.8" y1="-3" x2="401.8" y2="3"/>
<line x1="440.6" y1="-3" x2="440.6" y2="3"/>
<line x1="479.5" y1="-3" x2="479.5" y2="3"/>
<line x1="518.4" y1="-3" x2="518.4" y2="3"/>
<line x1="557.2" y1="-3" x2="557.2" y2="3"/>
<line x1="596.1" y1="-3" x2="596.1" y2="3"/>
<line x1="634.9" y1="-3" x2="634.9" y2="3"/>
<line x1="673.8" y1="-3" x2="673.8" y2="3"/>
<line x1="712.7" y1="-3" x2="712.7" y2="3"/>
<line x1="751.5" y1="-3" x2="751.5" y2="3"/>
<line x1="790.4" y1="-3" x2="790.4" y2="3"/>
<line x1="829.3" y1="-3" x2="829.3" y2="3"/>
<line x1="868.1" y1="-3" x2="868.1" y2="3"/>
<line x1="907.0" y1="-3" x2="907.0" y2="3"/>
<line x1="945.9" y1="-3" x2="945.9" y2="3"/>
</g><g stroke="#000" stroke-width="9" stroke-linecap="round">
<line x1="168.6" y1="642.5" x2="168.6" y2="658.8"/>
<line x1="207.5" y1="642.5" x2="207.5" y2="649.3"/>
<line x1="246.3" y1="642.5" x2="246.3" y2="658.8"/>
<line x1="285.2" y1="642.5" x2="285.2" y2="649.3"/>
<line x1="324.0" y1="642.5" x2="324.0" y2="658.8"/>
<line x1="362.9" y1="642.5" x2="362.9" y2="649.3"/>
<line x1="401.8" y1="642.5" x2="401.8" y2="658.8"/>
<line x1="440.6" y1="642.5" x2="440.6" y2="649.3"/>
<line x1="479.5" y1="642.5" x2="479.5" y2="658.8"/>
<line x1="518.4" y1="642.5" x2="518.4" y2="649.3"/>
<line x1="557.2" y1="642.5" x2="557.2" y2="658.8"/>
<line x1="596.1" y1="642.5" x2="596.1" y2="649.3"/>
<line x1="634.9" y1="642.5" x2="634.9" y2="658.8"/>
<line x1="673.8" y1="642.5" x2="673.8" y2="649.3"/>
<line x1="712.7" y1="642.5" x2="712.7" y2="658.8"/>
<line x1="751.5" y1="642.5" x2="751.5" y2="649.3"/>
<line x1="790.4" y1="642.5" x2="790.4" y2="658.8"/>
<line x1="829.3" y1="642.5" x2="829.3" y2="649.3"/>
<line x1="868.1" y1="642.5" x2="868.1" y2="658.8"/>
<line x1="907.0" y1="642.5" x2="907.0" y2="649.3"/>
<line x1="945.9" y1="642.5" x2="945.9" y2="658.8"/>
</g>
<text transform="matrix(1 0 0 1.06 0 -37.97)" x="135.5" y="632.9" font-size="29.5" text-anchor="end">0.0</text>
<text transform="matrix(1 0 0 1.06 0 -33.88)" x="132.5" y="564.7" font-size="29.5" text-anchor="end">5.0x10</text>
<text transform="matrix(1 0 0 1.06 0 -32.89)" x="132.8" y="548.2" font-size="17" text-anchor="start">2</text>
<text transform="matrix(1 0 0 1.06 0 -29.50)" x="132.5" y="491.6" font-size="29.5" text-anchor="end">1.0x10</text>
<text transform="matrix(1 0 0 1.06 0 -28.51)" x="132.8" y="475.1" font-size="17" text-anchor="start">3</text>
<text transform="matrix(1 0 0 1.06 0 -25.11)" x="132.5" y="418.5" font-size="29.5" text-anchor="end">1.5x10</text>
<text transform="matrix(1 0 0 1.06 0 -24.12)" x="132.8" y="402.0" font-size="17" text-anchor="start">3</text>
<text transform="matrix(1 0 0 1.06 0 -20.72)" x="132.5" y="345.4" font-size="29.5" text-anchor="end">2.0x10</text>
<text transform="matrix(1 0 0 1.06 0 -19.73)" x="132.8" y="328.9" font-size="17" text-anchor="start">3</text>
<text transform="matrix(1 0 0 1.06 0 -16.34)" x="132.5" y="272.2" font-size="29.5" text-anchor="end">2.5x10</text>
<text transform="matrix(1 0 0 1.06 0 -15.35)" x="132.8" y="255.7" font-size="17" text-anchor="start">3</text>
<text transform="matrix(1 0 0 1.06 0 -11.95)" x="132.5" y="199.1" font-size="29.5" text-anchor="end">3.0x10</text>
<text transform="matrix(1 0 0 1.06 0 -10.96)" x="132.8" y="182.6" font-size="17" text-anchor="start">3</text>
<text transform="matrix(1 0 0 1.06 0 -7.56)" x="132.5" y="126.0" font-size="29.5" text-anchor="end">3.5x10</text>
<text transform="matrix(1 0 0 1.06 0 -6.57)" x="132.8" y="109.5" font-size="17" text-anchor="start">3</text>
<text transform="matrix(1 0 0 1.06 0 -3.17)" x="132.5" y="52.9" font-size="29.5" text-anchor="end">4.0x10</text>
<text transform="matrix(1 0 0 1.06 0 -2.18)" x="132.8" y="36.4" font-size="17" text-anchor="start">3</text>
<text transform="matrix(1 0 0 1.06 0 -41.72)" x="168.6" y="695.3" font-size="29.5" text-anchor="middle">1.0</text>
<text transform="matrix(1 0 0 1.06 0 -41.72)" x="246.3" y="695.3" font-size="29.5" text-anchor="middle">1.5</text>
<text transform="matrix(1 0 0 1.06 0 -41.72)" x="324.0" y="695.3" font-size="29.5" text-anchor="middle">2.0</text>
<text transform="matrix(1 0 0 1.06 0 -41.72)" x="401.8" y="695.3" font-size="29.5" text-anchor="middle">2.5</text>
<text transform="matrix(1 0 0 1.06 0 -41.72)" x="479.5" y="695.3" font-size="29.5" text-anchor="middle">3.0</text>
<text transform="matrix(1 0 0 1.06 0 -41.72)" x="557.2" y="695.3" font-size="29.5" text-anchor="middle">3.5</text>
<text transform="matrix(1 0 0 1.06 0 -41.72)" x="634.9" y="695.3" font-size="29.5" text-anchor="middle">4.0</text>
<text transform="matrix(1 0 0 1.06 0 -41.72)" x="712.7" y="695.3" font-size="29.5" text-anchor="middle">4.5</text>
<text transform="matrix(1 0 0 1.06 0 -41.72)" x="790.4" y="695.3" font-size="29.5" text-anchor="middle">5.0</text>
<text transform="matrix(1 0 0 1.06 0 -41.72)" x="868.1" y="695.3" font-size="29.5" text-anchor="middle">5.5</text>
<text transform="matrix(1 0 0 1.06 0 -41.72)" x="945.9" y="695.3" font-size="29.5" text-anchor="middle">6.0</text>
<text x="564" y="752.8" font-size="36" text-anchor="middle">Eg=(ev)</text>
<g transform="translate(32.5,434) rotate(-90)"><text x="0.3" y="0" font-size="36">(h</text><text transform="translate(31.3,2.0) scale(1.05,1)" style="font-family:&quot;Liberation Serif&quot;" font-size="37">α</text><text transform="translate(49.2,2.0) scale(1.16,1)" style="font-family:&quot;Liberation Serif&quot;" font-size="37">υ</text><text x="72.3" y="0" font-size="36">)</text><text x="83" y="-16.5" font-size="21">2</text><text x="95.5" y="0" font-size="36">cm</text><text x="143.5" y="-16.5" font-size="21">-1</text></g>
<rect x="518.4" y="32.5" width="189.9" height="186.8" fill="#fff" stroke="#000" stroke-width="1.6"/>
<g transform="translate(552.6,51.7) scale(1.0,1.02)"><use href="#mc"/></g>
<g transform="translate(552.6,89.25) scale(1.11,1.1)"><use href="#ms"/></g>
<g transform="translate(552.6,126.8) scale(1.06,1.07)"><use href="#mto"/></g>
<g transform="translate(552.6,164.35) scale(1.06,1.07)"><use href="#mtg"/></g>
<g transform="translate(552.6,201.9)"><use href="#mp"/></g>
<text x="574.8" y="62.6" font-size="30.8">Mn=.00%</text>
<text x="574.8" y="100.2" font-size="30.8">Mn=.05%</text>
<text x="574.8" y="137.7" font-size="30.8">Mn=.10%</text>
<text x="574.8" y="175.2" font-size="30.8">Mn=.15%</text>
<text x="574.8" y="212.8" font-size="30.8">Mn=.20%</text>
<g fill="#fff"><rect x="101.13" y="561.09" width="5.97" height="4.44"/><rect x="109.71" y="561.09" width="5.74" height="4.44"/><rect x="45.38" y="487.97" width="5.97" height="4.44"/><rect x="53.95" y="487.97" width="5.74" height="4.44"/><rect x="101.13" y="487.97" width="5.97" height="4.44"/><rect x="109.71" y="487.97" width="5.74" height="4.44"/><rect x="45.38" y="414.85" width="5.97" height="4.44"/><rect x="53.95" y="414.85" width="5.74" height="4.44"/><rect x="101.13" y="414.85" width="5.97" height="4.44"/><rect x="109.71" y="414.85" width="5.74" height="4.44"/><rect x="101.13" y="341.73" width="5.97" height="4.44"/><rect x="109.71" y="341.73" width="5.74" height="4.44"/><rect x="101.13" y="268.61" width="5.97" height="4.44"/><rect x="109.71" y="268.61" width="5.74" height="4.44"/><rect x="101.13" y="195.49" width="5.97" height="4.44"/><rect x="109.71" y="195.49" width="5.74" height="4.44"/><rect x="101.13" y="122.37" width="5.97" height="4.44"/><rect x="109.71" y="122.37" width="5.74" height="4.44"/><rect x="101.13" y="49.25" width="5.97" height="4.44"/><rect x="109.71" y="49.25" width="5.74" height="4.44"/><rect x="149.54" y="691.66" width="5.97" height="4.44"/><rect x="158.12" y="691.66" width="5.74" height="4.44"/><rect x="227.27" y="691.66" width="5.97" height="4.44"/><rect x="235.85" y="691.66" width="5.74" height="4.44"/><rect x="645.68" y="134.10" width="6.20" height="4.40"/><rect x="654.60" y="134.10" width="5.96" height="4.40"/><rect x="645.68" y="171.65" width="6.20" height="4.40"/><rect x="654.60" y="171.65" width="5.96" height="4.40"/></g>
<rect x="205" y="50" width="240" height="285" fill="#fff"/>
<g stroke="#000" stroke-width="2.6" fill="none" stroke-linecap="round"><path d="M236 60.1H440.5V289M238.4 60.1V291.3M238.4 289H440.5"/></g>
<g stroke="#000" stroke-width="2.4" stroke-linecap="round">
<line x1="234.8" y1="288.6" x2="238" y2="288.6"/>
<line x1="236.3" y1="271.1" x2="238" y2="271.1"/>
<line x1="234.8" y1="253.5" x2="238" y2="253.5"/>
<line x1="236.3" y1="236.0" x2="238" y2="236.0"/>
<line x1="234.8" y1="218.4" x2="238" y2="218.4"/>
<line x1="236.3" y1="200.9" x2="238" y2="200.9"/>
<line x1="234.8" y1="183.3" x2="238" y2="183.3"/>
<line x1="236.3" y1="165.8" x2="238" y2="165.8"/>
<line x1="234.8" y1="148.2" x2="238" y2="148.2"/>
<line x1="236.3" y1="130.6" x2="238" y2="130.6"/>
<line x1="234.8" y1="113.1" x2="238" y2="113.1"/>
<line x1="236.3" y1="95.6" x2="238" y2="95.6"/>
<line x1="234.8" y1="78.0" x2="238" y2="78.0"/>
<line x1="236.3" y1="60.5" x2="238" y2="60.5"/>
<line x1="258.5" y1="290" x2="258.5" y2="292"/>
<line x1="278.8" y1="290" x2="278.8" y2="291"/>
<line x1="299.0" y1="290" x2="299.0" y2="292"/>
<line x1="319.2" y1="290" x2="319.2" y2="291"/>
<line x1="339.5" y1="290" x2="339.5" y2="292"/>
<line x1="359.8" y1="290" x2="359.8" y2="291"/>
<line x1="380.0" y1="290" x2="380.0" y2="292"/>
<line x1="400.2" y1="290" x2="400.2" y2="291"/>
<line x1="420.5" y1="290" x2="420.5" y2="292"/>
</g>
<text x="233.2" y="291.1" font-size="9.4" text-anchor="end">2.7</text>
<text x="233.2" y="256.0" font-size="9.4" text-anchor="end">2.8</text>
<text x="233.2" y="220.9" font-size="9.4" text-anchor="end">2.9</text>
<text x="233.2" y="185.8" font-size="9.4" text-anchor="end">3.0</text>
<text x="233.2" y="150.7" font-size="9.4" text-anchor="end">3.1</text>
<text x="233.2" y="115.6" font-size="9.4" text-anchor="end">3.2</text>
<text x="233.2" y="80.5" font-size="9.4" text-anchor="end">3.3</text>
<text x="258.8" y="302.6" font-size="9.4" text-anchor="middle">0.00</text>
<text x="299.3" y="302.6" font-size="9.4" text-anchor="middle">0.05</text>
<text x="339.8" y="302.6" font-size="9.4" text-anchor="middle">0.10</text>
<text x="380.3" y="302.6" font-size="9.4" text-anchor="middle">0.15</text>
<text x="420.8" y="302.6" font-size="9.4" text-anchor="middle">0.20</text>
<text x="339" y="327" font-size="16.2" font-weight="bold" text-anchor="middle"><tspan font-weight="normal" font-size="13">(</tspan>Concentration (X)<tspan font-weight="normal" font-size="13">)</tspan></text>
<g transform="translate(213.8,221.5) rotate(-90) scale(1.06,1)"><text x="0" y="0" font-size="14.5"><tspan font-size="12">(</tspan>Eg(ev) cm<tspan font-size="9.5" dy="-6.5">-1</tspan><tspan dy="6.5" font-size="12">)</tspan></text></g>
<path d="M268.2 80.5L289.3 86.0M305.9 95.7L332.6 123.4M344.7 139.2L374.8 188.8M384.9 206.0L415.6 259.9" stroke="#00f" stroke-width="2.8" fill="none"/>
<g transform="translate(258.5,78.0) scale(0.85,1.05)"><path d="M0 -13.5L10 6.3L-10 6.3Z" fill="#f00"/></g>
<g transform="translate(299.0,88.5) scale(0.85,1.05)"><path d="M0 -13.5L10 6.3L-10 6.3Z" fill="#f00"/></g>
<g transform="translate(339.5,130.7) scale(0.85,1.05)"><path d="M0 -13.5L10 6.3L-10 6.3Z" fill="#f00"/></g>
<g transform="translate(380.0,197.3) scale(0.85,1.05)"><path d="M0 -13.5L10 6.3L-10 6.3Z" fill="#f00"/></g>
<g transform="translate(420.5,268.6) scale(0.85,1.05)"><path d="M0 -13.5L10 6.3L-10 6.3Z" fill="#f00"/></g>
</svg></body></html>
